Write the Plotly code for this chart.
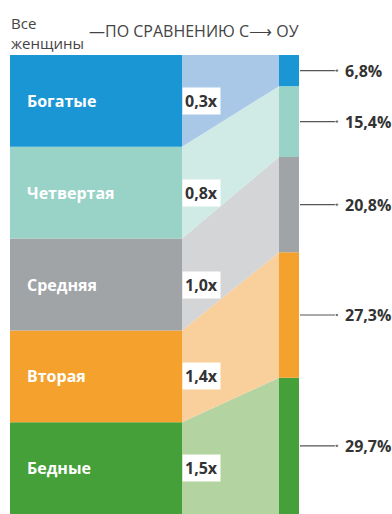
import plotly.graph_objects as go

# Income quintiles of all women vs. their share among ОУ
groups = ["Бедные", "Вторая", "Средняя", "Четвертая", "Богатые"]
all_women_share = [20, 20, 20, 20, 20]
ou_share = [29.7, 27.3, 20.8, 15.4, 6.8]
ratio_labels = ["1,5x", "1,4x", "1,0x", "0,8x", "0,3x"]
share_labels = ["29,7%", "27,3%", "20,8%", "15,4%", "6,8%"]

dark = ["#45a03a", "#f4a22d", "#a0a4a7", "#99d3c8", "#1a96d4"]
light = ["#b3d3a0", "#f9cf9b", "#d4d5d7", "#d0ebe5", "#a9c8e8"]

FONT = "Open Sans"
TXT = "#333333"
FS = 16

# horizontal layout of the three columns (x axis units = pixels)
LEFT_X0, LEFT_X1 = 10, 182
RIGHT_X0, RIGHT_X1 = 279, 299

fig = go.Figure()

left_base = 0
right_base = 0
for i, g in enumerate(groups):
    lb, lt = left_base, left_base + all_women_share[i]
    rb, rt = right_base, right_base + ou_share[i]

    # connecting band between the two columns
    fig.add_trace(go.Scatter(
        x=[LEFT_X1, LEFT_X1, RIGHT_X0, RIGHT_X0, LEFT_X1],
        y=[lb, lt, rt, rb, lb],
        fill="toself", fillcolor=light[i], mode="lines",
        line=dict(width=0), hoverinfo="skip", showlegend=False))

    # all women column
    fig.add_trace(go.Bar(
        x=[(LEFT_X0 + LEFT_X1) / 2], y=[all_women_share[i]], base=[lb],
        width=[LEFT_X1 - LEFT_X0], marker=dict(color=dark[i], line=dict(width=0)),
        showlegend=False, hoverinfo="skip"))

    # ОУ column
    fig.add_trace(go.Bar(
        x=[(RIGHT_X0 + RIGHT_X1) / 2], y=[ou_share[i]], base=[rb],
        width=[RIGHT_X1 - RIGHT_X0], marker=dict(color=dark[i], line=dict(width=0)),
        showlegend=False, hoverinfo="skip"))

    lmid = (lb + lt) / 2
    rmid = (rb + rt) / 2

    # group name
    fig.add_annotation(x=25, y=lmid, text=f"<b>{g}</b>", showarrow=False,
                       xanchor="left", yanchor="middle",
                       font=dict(family=FONT, size=FS, color="white"))
    # ratio label on white box
    fig.add_annotation(x=LEFT_X1, y=lmid, text=f"<b>{ratio_labels[i]}</b>",
                       showarrow=False, xanchor="left", yanchor="middle",
                       bgcolor="white", borderpad=2,
                       font=dict(family=FONT, size=FS, color=TXT))
    # leader line with end dot
    fig.add_trace(go.Scatter(
        x=[RIGHT_X1 + 1, 337], y=[rmid, rmid], mode="lines+markers",
        line=dict(color="#555555", width=1.2),
        marker=dict(size=[0, 3.5], color="#555555"),
        hoverinfo="skip", showlegend=False))
    fig.add_annotation(x=343, y=rmid, text=f"<b>{share_labels[i]}</b>",
                       showarrow=False, xanchor="left", yanchor="middle",
                       font=dict(family=FONT, size=FS, color=TXT))

    left_base = lt
    right_base = rt

# header
HDR = "#444444"
fig.add_annotation(x=9, y=1, xref="x", yref="paper", yshift=22.5,
                   text="Все<br>женщины", showarrow=False, align="left",
                   xanchor="left", yanchor="middle",
                   font=dict(family=FONT, size=15, color=HDR))
fig.add_annotation(x=87, y=1, xref="x", yref="paper", yshift=24,
                   text="—ПО СРАВНЕНИЮ С⟶ ОУ", showarrow=False,
                   xanchor="left", yanchor="middle",
                   font=dict(family=FONT, size=FS, color=HDR))

fig.update_layout(
    width=392, height=514,
    margin=dict(l=0, r=0, t=55, b=0),
    barmode="overlay",
    plot_bgcolor="white", paper_bgcolor="white",
    xaxis=dict(range=[0, 392], visible=False, fixedrange=True),
    yaxis=dict(range=[0, 100], visible=False, fixedrange=True),
)

fig.write_html("out.html")
